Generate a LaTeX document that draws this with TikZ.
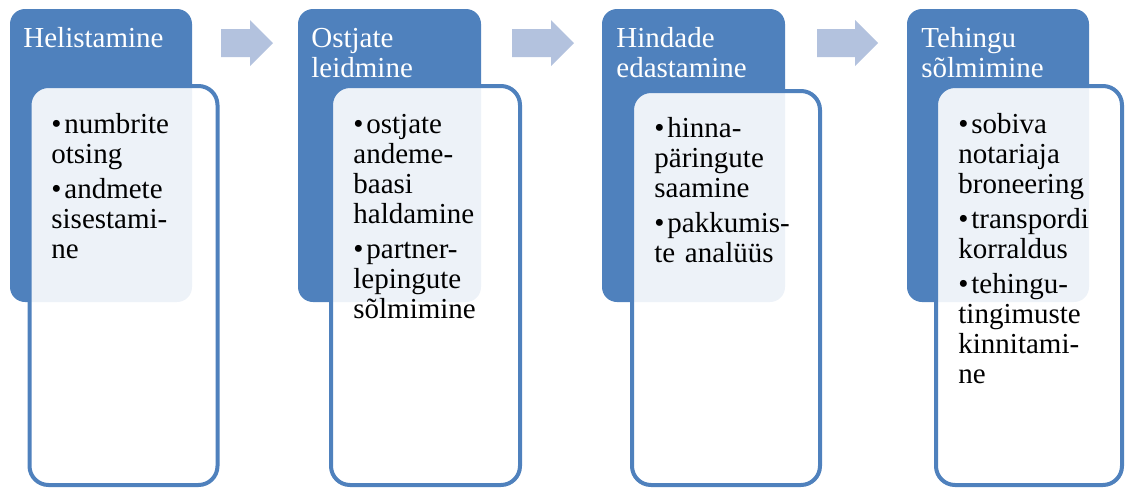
\documentclass[tikz,border=0pt]{standalone}
\usepackage{fontspec}
\setmainfont{Liberation Serif}
\usepackage{tikz}

\definecolor{hdrblue}{HTML}{4F81BD}
\definecolor{arrblue}{HTML}{B3C2DE}

\tikzset{
  header/.style={fill=hdrblue,draw=none,rounded corners=7.5pt},
  bodybox/.style={draw=hdrblue,line width=2pt,fill=white,fill opacity=0.9,rounded corners=9.5pt},
  flowarrow/.style={fill=arrblue},
  hdrtext/.style={anchor=base west,inner sep=0pt,text=white,text width=95pt,align=left,
    font=\fontsize{14.5}{15}\selectfont},
  itemtext/.style={anchor=base west,inner sep=0pt,text=black,text width=80pt,align=left,
    font=\fontsize{14.5}{15}\selectfont}
}
\newcommand{\bul}[1]{\hangindent=6.5pt\hangafter=1\noindent\makebox[6.5pt][l]{\textbullet}#1\par}

\begin{document}
\begin{tikzpicture}[x=0.5pt,y=-0.5pt,join=round] %Four steps with arrows
        \useasboundingbox (0,0) rectangle (1126,488);
        \fill[header](10,9) rectangle (192,302);
        \filldraw[bodybox](29.5,86) rectangle (217.5,485);
        \fill[header](298,9) rectangle (481,302);
        \filldraw[bodybox](331,86) rectangle (520,485);
        \fill[header](602,9) rectangle (785,302);
        \filldraw[bodybox](632,91) rectangle (820,485);
        \fill[header](907,9) rectangle (1089,302);
        \filldraw[bodybox](936,86) rectangle (1122,485);
        \fill[flowarrow](221,29)--(250,29)--(250,20)--(273,43)--(250,66)--(250,57)--(221,57)--cycle;
        \fill[flowarrow](512,29)--(551,29)--(551,20)--(574,43)--(551,66)--(551,57)--(512,57)--cycle;
        \fill[flowarrow](817,29)--(855,29)--(855,20)--(878,43)--(855,66)--(855,57)--(817,57)--cycle;
        \node[hdrtext] (h1) at (23,47) {Helistamine};
        \node[hdrtext] (h2) at (311,47) {Ostjate\\leidmine};
        \node[hdrtext] (h3) at (616,47) {Hindade\\edastamine};
        \node[hdrtext] (h4) at (921,47) {Tehingu\\sõlmimine};
        \node[itemtext] (b1) at (51,133) {\setlength{\parskip}{2.5pt}%
                \bul{numbrite\\otsing}\bul{andmete\\sisestami-\\ne}};
        \node[itemtext] (b2) at (353,133) {\setlength{\parskip}{2.5pt}%
                \bul{ostjate\\andeme-\\baasi\\haldamine}\bul{partner-\\lepingute\\sõlmimine}};
        \node[itemtext] (b3) at (654,137) {\setlength{\parskip}{2.5pt}%
                \bul{hinna-\\päringute\\saamine}\bul{pakkumis-\\te analüüs}};
        \node[itemtext] (b4) at (958,133) {\setlength{\parskip}{2.5pt}%
                \bul{sobiva\\notariaja\\broneering}\bul{transpordi\\korraldus}\bul{tehingu-\\tingimuste\\kinnitami-\\ne}};
    \end{tikzpicture}
\end{document}
